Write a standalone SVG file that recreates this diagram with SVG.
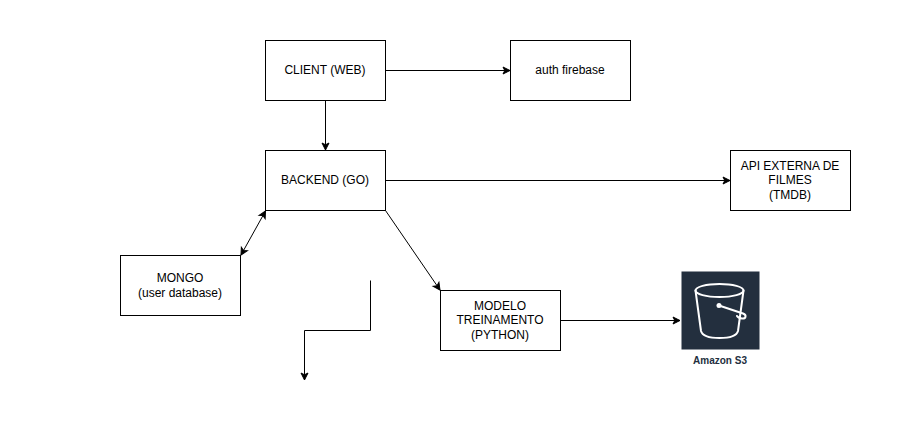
<svg xmlns="http://www.w3.org/2000/svg" width="911" height="441" viewBox="0 0 911 441">
<style>
text{font-family:"Liberation Sans",Arial,sans-serif;font-size:12px;fill:#000;text-anchor:middle}
.n{fill:#fff;stroke:#000;stroke-width:1}
.c{fill:none;stroke:#000;stroke-width:1}
.a{marker-end:url(#ah)}
.b{marker-start:url(#ahs);marker-end:url(#ah)}
</style>
<defs>
<marker id="ah" markerUnits="userSpaceOnUse" markerWidth="10" markerHeight="10" refX="7" refY="3.5" orient="auto" overflow="visible"><path d="M0 0L7 3.5L0 7L1.750 3.500Z" fill="#000" stroke="#000" stroke-width="1"/></marker>
<marker id="ahs" markerUnits="userSpaceOnUse" markerWidth="10" markerHeight="10" refX="0" refY="3.5" orient="auto" overflow="visible"><path d="M7 0L0 3.5L7 7L5.250 3.500Z" fill="#000" stroke="#000" stroke-width="1"/></marker>
</defs>
<rect width="911" height="441" fill="#fff"/>
<g id="connectors">
<path class="c a" d="M385.500 70.500H510"/>
<path class="c a" d="M325.500 100.500V150"/>
<path class="c a" d="M385.500 180.500H730"/>
<path class="c b" d="M241 255L265.500 211"/>
<path class="c a" d="M385.500 210.500L440 290"/>
<path class="c a" d="M560.500 320.500H680"/>
<path class="c a" d="M370.500 280.500V330.500H304.500V380"/>
</g>
<g id="client"><rect class="n" x="265.500" y="40.500" width="120" height="60"/><text x="325" y="74">CLIENT (WEB)</text></g>
<g id="auth"><rect class="n" x="510.500" y="40.500" width="120" height="60"/><text x="570" y="74">auth firebase</text></g>
<g id="backend"><rect class="n" x="265.500" y="150.500" width="120" height="60"/><text x="325" y="184">BACKEND (GO)</text></g>
<g id="api"><rect class="n" x="730.500" y="150.500" width="120" height="60"/><text x="790" y="170">API EXTERNA DE</text><text x="790" y="184">FILMES</text><text x="790" y="199">(TMDB)</text></g>
<g id="mongo"><rect class="n" x="120.500" y="255.500" width="120" height="60"/><text x="180" y="282">MONGO</text><text x="180" y="297">(user database)</text></g>
<g id="modelo"><rect class="n" x="440.500" y="290.500" width="120" height="60"/><text x="500" y="310">MODELO</text><text x="500" y="324">TREINAMENTO</text><text x="500" y="339">(PYTHON)</text></g>
<g id="s3">
<rect x="681.500" y="271.500" width="78" height="78" fill="#232f3e"/>
<g fill="none" stroke="#fff" stroke-width="2" stroke-linejoin="round" stroke-linecap="round">
<ellipse cx="719.500" cy="290.500" rx="24" ry="6.500"/>
<path d="M695.500 290.500L701 331Q703 338 719.500 338Q736 338 738 331L743.500 290.500"/>
<path d="M719 305.500L743 313.500C747 315 746 319 742 318.500Q738 318 737 316"/>
</g>
<circle cx="719" cy="305.500" r="2.500" fill="#fff"/>
<text x="720" y="364" style="font-size:10px;font-weight:bold;fill:#232f3e">Amazon S3</text>
</g>
</svg>
